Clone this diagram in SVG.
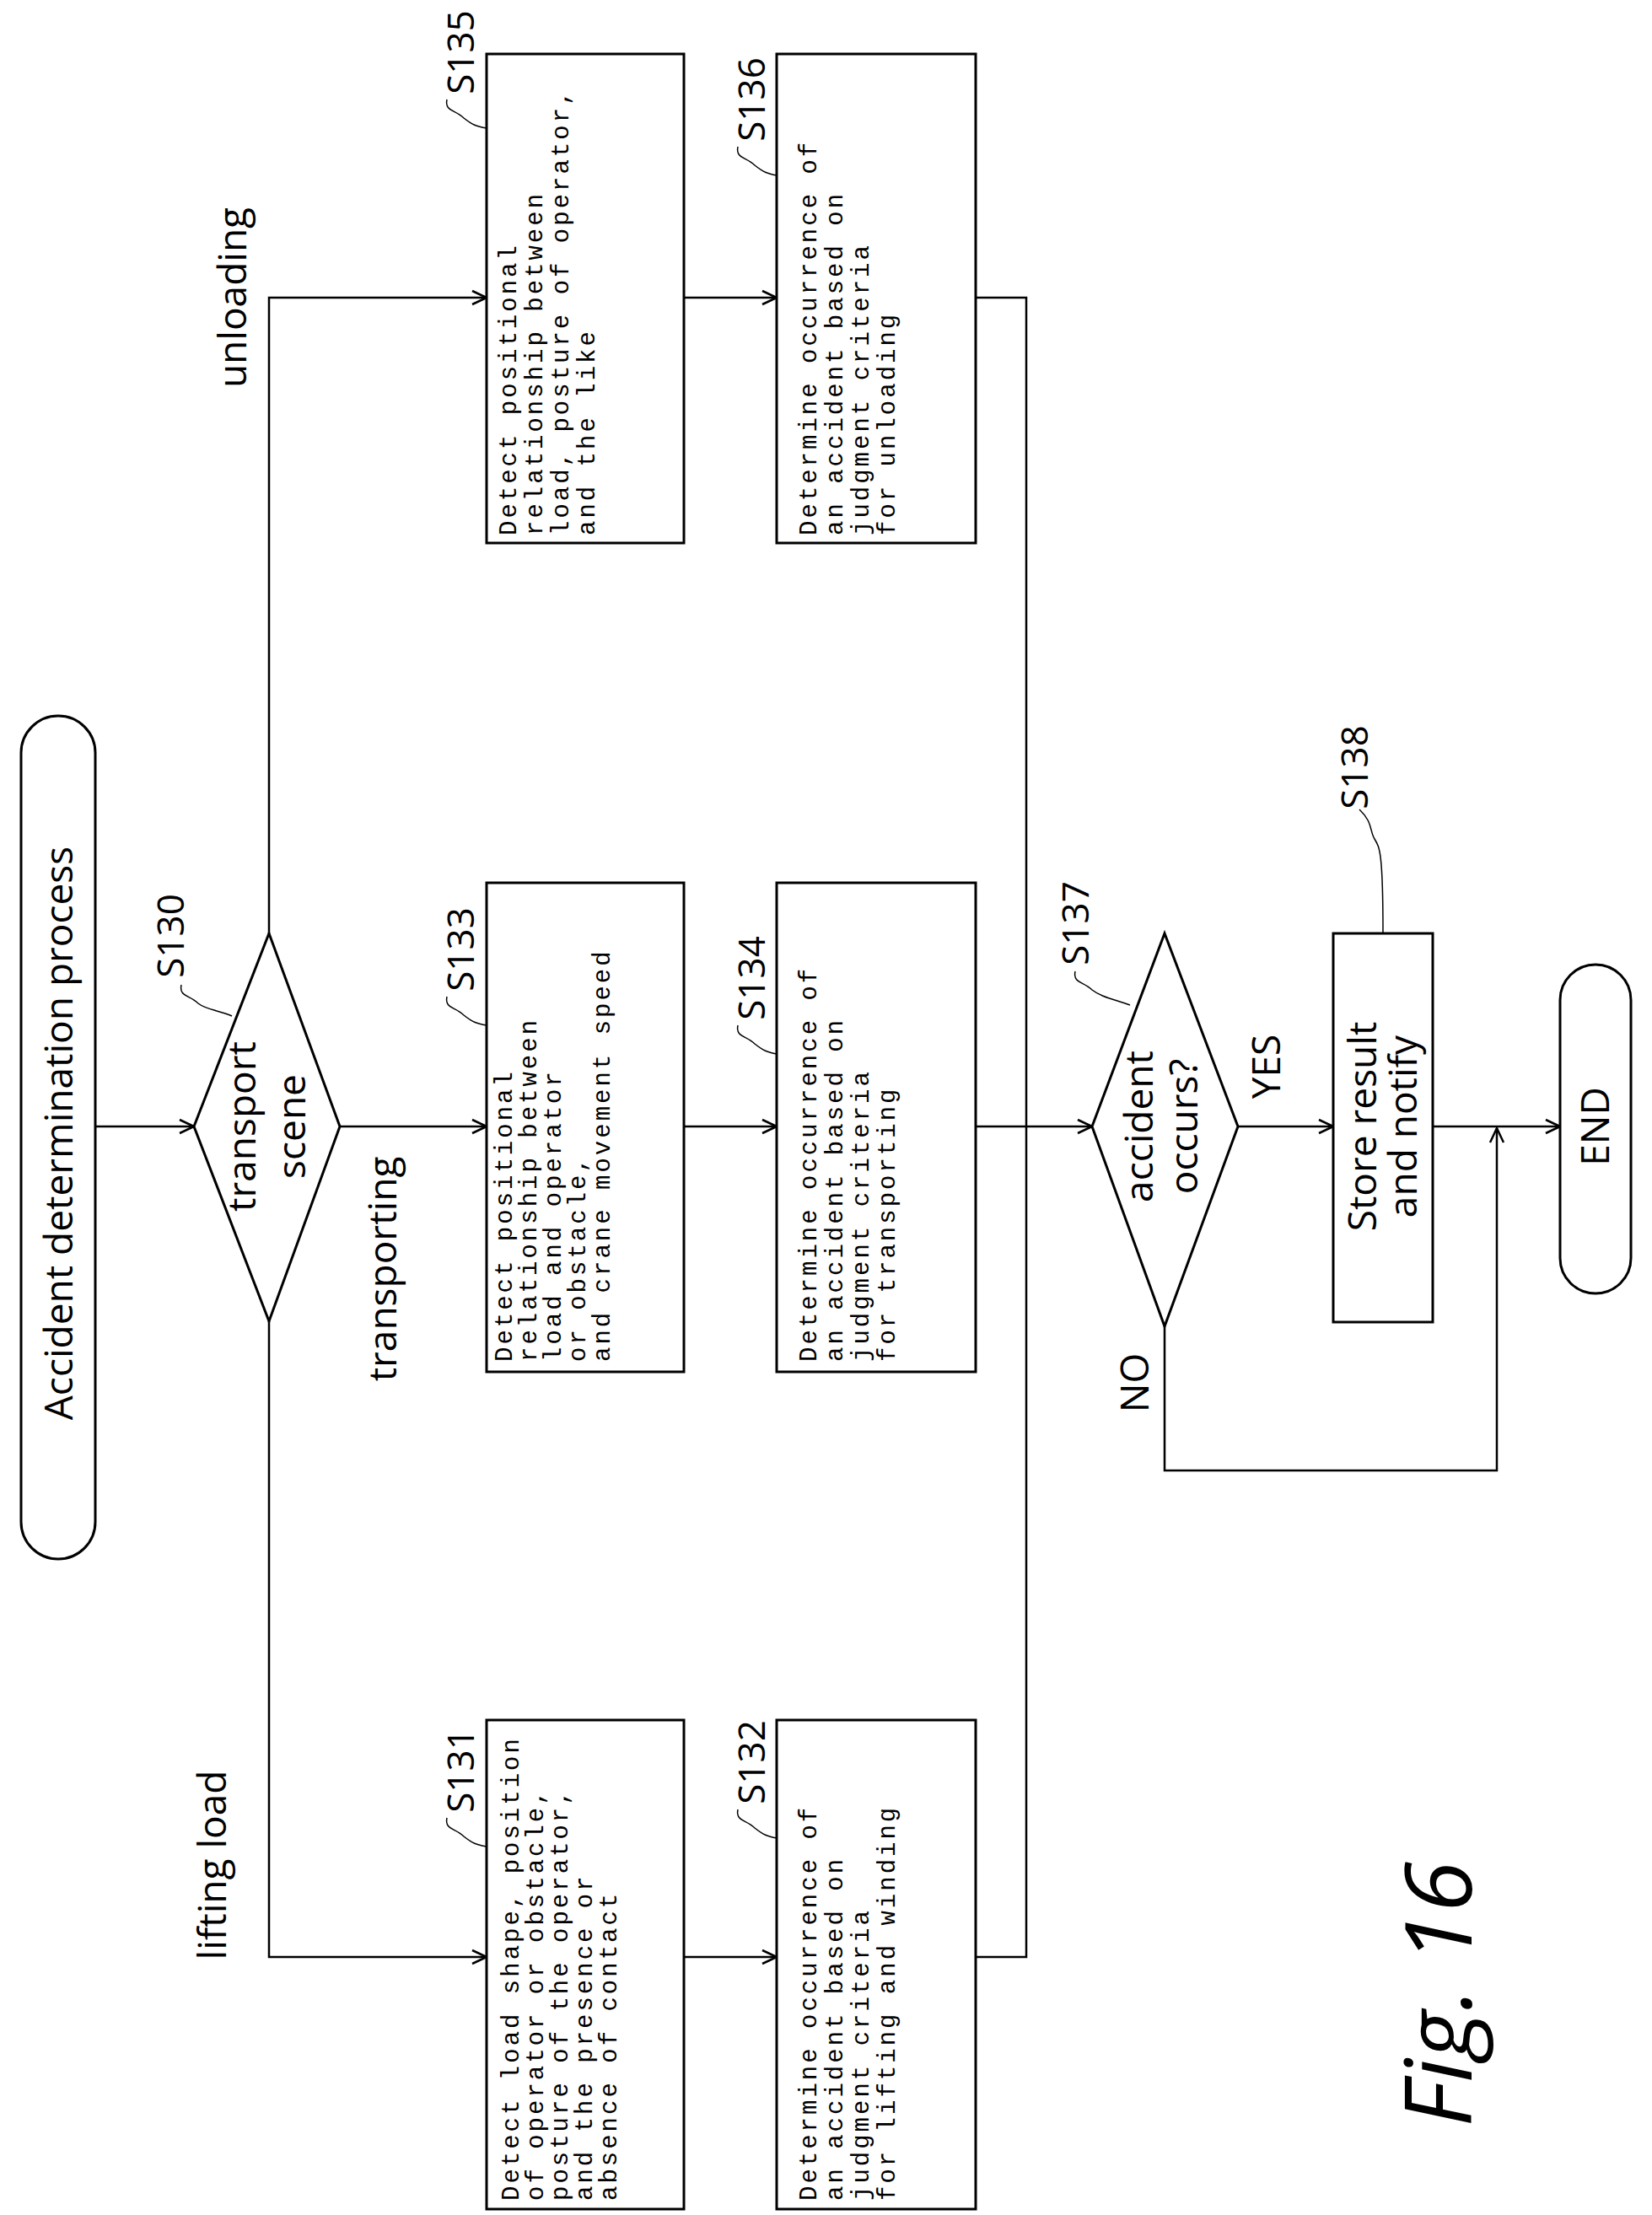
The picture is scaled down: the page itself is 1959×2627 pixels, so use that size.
<svg xmlns="http://www.w3.org/2000/svg" width="1959" height="2627" viewBox="0 0 1959 2627">
<defs>
<marker id="ar" viewBox="0 0 20 20" refX="19" refY="10" markerWidth="20" markerHeight="20" markerUnits="userSpaceOnUse" orient="auto">
<path d="M2,2 L19,10 L2,18" fill="none" stroke="#000" stroke-width="2.5"/>
</marker>
</defs>
<style>
.s{fill:#fff;stroke:#000;stroke-width:3}
.c{fill:none;stroke:#000;stroke-width:2.5}
.q{fill:none;stroke:#000;stroke-width:1.5}
.t{font-family:"Liberation Mono",monospace;font-size:29px;letter-spacing:3px}
.l{font-family:"Open Sans","Liberation Sans",sans-serif;font-size:46px}
.n{font-family:"Open Sans","Liberation Sans",sans-serif;font-size:44px}
</style>
<rect width="1959" height="2627" fill="#fff"/>
<g id="connectors">
<path class="c" d="M113,1336 H230" marker-end="url(#ar)"/>
<path class="c" d="M403,1336 H577" marker-end="url(#ar)"/>
<path class="c" d="M811,1336 H921" marker-end="url(#ar)"/>
<path class="c" d="M1157,1336 H1295" marker-end="url(#ar)"/>
<path class="c" d="M1468,1336 H1581" marker-end="url(#ar)"/>
<path class="c" d="M1699,1336 H1850" marker-end="url(#ar)"/>
<path class="c" d="M319,1107 V353 H577" marker-end="url(#ar)"/>
<path class="c" d="M319,1567 V2321 H577" marker-end="url(#ar)"/>
<path class="c" d="M811,353 H921" marker-end="url(#ar)"/>
<path class="c" d="M811,2321 H921" marker-end="url(#ar)"/>
<path class="c" d="M1157,353 H1217 V2321 H1157"/>
<path class="c" d="M1381,1573 V1744 H1775 V1338" marker-end="url(#ar)"/>
<path class="q" d="M215,1168 C212,1182 225,1180 235,1190 C245,1198 260,1198 275,1205"/>
<path class="q" d="M530,1182 C527,1196 540,1194 550,1204 C560,1212 565,1214 577,1216"/>
<path class="q" d="M875,1216 C872,1230 885,1228 895,1238 C905,1246 910,1248 921,1250"/>
<path class="q" d="M530,118 C527,132 540,130 550,140 C560,148 565,150 577,152"/>
<path class="q" d="M875,174 C872,188 885,186 895,196 C905,204 910,206 921,208"/>
<path class="q" d="M530,2156 C527,2170 540,2168 550,2178 C560,2186 565,2188 577,2190"/>
<path class="q" d="M875,2146 C872,2160 885,2158 895,2168 C905,2176 910,2178 921,2180"/>
<path class="q" d="M1275,1152 C1272,1166 1285,1164 1295,1174 C1305,1182 1320,1185 1340,1192"/>
<path class="q" d="M1612,960 C1628,975 1624,985 1630,995 C1636,1005 1640,1010 1640,1107"/>
</g>
<g id="start">
<path class="s" d="M25,893 A44,44 0 0 1 113,893 V1805 A44,44 0 0 1 25,1805 Z"/>
<text class="l" transform="translate(86,1344) rotate(-90)" text-anchor="middle">Accident determination process</text>
</g>
<g id="S130">
<polygon class="s" points="230,1336 319,1107 403,1336 319,1567"/>
<text class="l" transform="translate(303,1336) rotate(-90)" text-anchor="middle">transport</text>
<text class="l" transform="translate(362,1336) rotate(-90)" text-anchor="middle">scene</text>
<text class="n" transform="translate(218,1110) rotate(-90)" text-anchor="middle">S130</text>
</g>
<text class="l" transform="translate(292,353) rotate(-90)" text-anchor="middle">unloading</text>
<text class="l" transform="translate(470,1505) rotate(-90)" text-anchor="middle">transporting</text>
<text class="l" transform="translate(268,2212) rotate(-90)" text-anchor="middle">lifting load</text>
<g id="S131">
<rect class="s" x="577" y="2040" width="234" height="580"/>
<g class="t" transform="translate(0,2610)">
<text transform="translate(615,0) rotate(-90)">Detect load shape, position</text>
<text transform="translate(644,0) rotate(-90)">of operator or obstacle,</text>
<text transform="translate(673,0) rotate(-90)">posture of the operator,</text>
<text transform="translate(702,0) rotate(-90)">and the presence or</text>
<text transform="translate(731,0) rotate(-90)">absence of contact</text>
</g>
<text class="n" transform="translate(562,2100) rotate(-90)" text-anchor="middle">S131</text>
</g>
<g id="S132">
<rect class="s" x="921" y="2040" width="236" height="580"/>
<g class="t" transform="translate(0,2610)">
<text transform="translate(968,0) rotate(-90)">Determine occurrence of</text>
<text transform="translate(999,0) rotate(-90)">an accident based on</text>
<text transform="translate(1030,0) rotate(-90)">judgment criteria</text>
<text transform="translate(1061,0) rotate(-90)">for lifting and winding</text>
</g>
<text class="n" transform="translate(907,2090) rotate(-90)" text-anchor="middle">S132</text>
</g>
<g id="S133">
<rect class="s" x="577" y="1047" width="234" height="580"/>
<g class="t" transform="translate(0,1615)">
<text transform="translate(607,0) rotate(-90)">Detect positional</text>
<text transform="translate(636,0) rotate(-90)">relationship between</text>
<text transform="translate(665,0) rotate(-90)">load and operator</text>
<text transform="translate(694,0) rotate(-90)">or obstacle,</text>
<text transform="translate(723,0) rotate(-90)">and crane movement speed</text>
</g>
<text class="n" transform="translate(562,1126) rotate(-90)" text-anchor="middle">S133</text>
</g>
<g id="S134">
<rect class="s" x="921" y="1047" width="236" height="580"/>
<g class="t" transform="translate(0,1615)">
<text transform="translate(968,0) rotate(-90)">Determine occurrence of</text>
<text transform="translate(999,0) rotate(-90)">an accident based on</text>
<text transform="translate(1030,0) rotate(-90)">judgment criteria</text>
<text transform="translate(1061,0) rotate(-90)">for transporting</text>
</g>
<text class="n" transform="translate(907,1160) rotate(-90)" text-anchor="middle">S134</text>
</g>
<g id="S135">
<rect class="s" x="577" y="64" width="234" height="580"/>
<g class="t" transform="translate(0,635)">
<text transform="translate(612,0) rotate(-90)">Detect positional</text>
<text transform="translate(643,0) rotate(-90)">relationship between</text>
<text transform="translate(674,0) rotate(-90)">load, posture of operator,</text>
<text transform="translate(705,0) rotate(-90)">and the like</text>
</g>
<text class="n" transform="translate(562,62) rotate(-90)" text-anchor="middle">S135</text>
</g>
<g id="S136">
<rect class="s" x="921" y="64" width="236" height="580"/>
<g class="t" transform="translate(0,635)">
<text transform="translate(968,0) rotate(-90)">Determine occurrence of</text>
<text transform="translate(999,0) rotate(-90)">an accident based on</text>
<text transform="translate(1030,0) rotate(-90)">judgment criteria</text>
<text transform="translate(1061,0) rotate(-90)">for unloading</text>
</g>
<text class="n" transform="translate(907,118) rotate(-90)" text-anchor="middle">S136</text>
</g>
<g id="S137">
<polygon class="s" points="1295,1336 1381,1107 1468,1336 1381,1573"/>
<text class="l" transform="translate(1367,1336) rotate(-90)" text-anchor="middle">accident</text>
<text class="l" transform="translate(1420,1336) rotate(-90)" text-anchor="middle">occurs?</text>
<text class="n" transform="translate(1291,1095) rotate(-90)" text-anchor="middle">S137</text>
<text class="l" transform="translate(1518,1265) rotate(-90)" text-anchor="middle">YES</text>
<text class="l" transform="translate(1362,1640) rotate(-90)" text-anchor="middle">NO</text>
</g>
<g id="S138">
<rect class="s" x="1581" y="1107" width="118" height="461"/>
<text class="l" transform="translate(1632,1336) rotate(-90)" text-anchor="middle">Store result</text>
<text class="l" transform="translate(1680,1336) rotate(-90)" text-anchor="middle">and notify</text>
<text class="n" transform="translate(1622,910) rotate(-90)" text-anchor="middle">S138</text>
</g>
<g id="end">
<path class="s" d="M1850,1186 A42,42 0 0 1 1934,1186 V1492 A42,42 0 0 1 1850,1492 Z"/>
<text class="l" transform="translate(1908,1336) rotate(-90)" text-anchor="middle">END</text>
</g>
<text transform="translate(1745,2365) rotate(-90)" text-anchor="middle" font-family="Open Sans, Liberation Sans, sans-serif" font-style="italic" font-size="110">Fig. 16</text>
</svg>
